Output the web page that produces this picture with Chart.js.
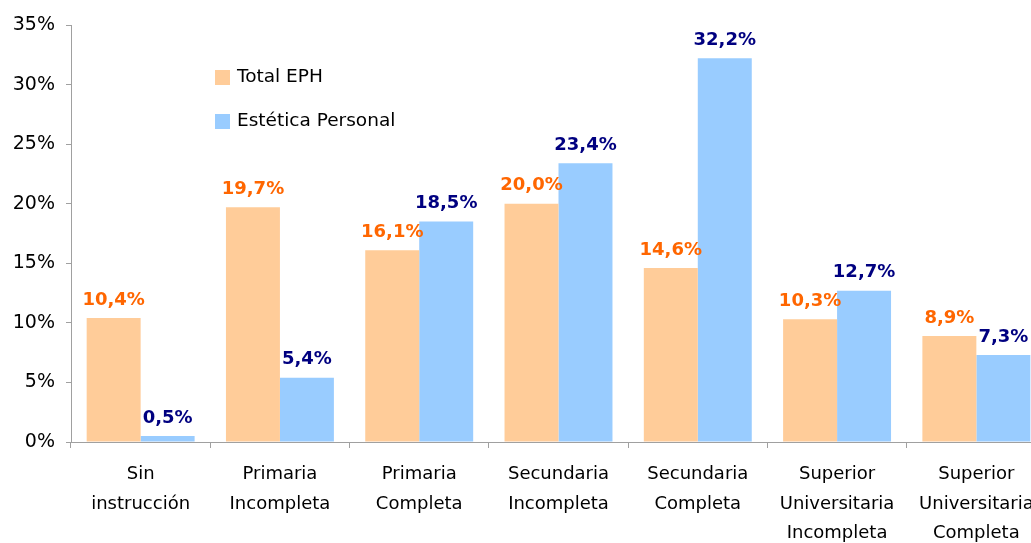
<!DOCTYPE html>
<html>
<head>
<meta charset="utf-8">
<script src="https://cdn.jsdelivr.net/npm/chart.js@4/dist/chart.umd.min.js"></script>
<style>
  html, body { margin: 0; padding: 0; background: #fff; overflow: hidden; }
  #wrap { position: relative; width: 1046px; height: 543px; }
</style>
</head>
<body>
<div id="wrap"><canvas id="eduChart"></canvas></div>
<script>
const categories = [
  ['Sin', 'instrucción'],
  ['Primaria', 'Incompleta'],
  ['Primaria', 'Completa'],
  ['Secundaria', 'Incompleta'],
  ['Secundaria', 'Completa'],
  ['Superior', 'Universitaria', 'Incompleta'],
  ['Superior', 'Universitaria', 'Completa']
];
const seriesNames = ['Total EPH', 'Estética Personal'];
const totalEph = [10.4, 19.7, 16.1, 20.0, 14.6, 10.3, 8.9];
const esteticaPersonal = [0.5, 5.4, 18.5, 23.4, 32.2, 12.7, 7.3];
const yTicks = [0, 5, 10, 15, 20, 25, 30, 35];

const fmt = v => v.toFixed(1).replace('.', ',') + '%';

// value labels over each bar
const valueLabels = {
  id: 'valueLabels',
  afterDatasetsDraw(chart) {
    const ctx = chart.ctx;
    ctx.save();
    ctx.font = 'bold 18px "DejaVu Sans"';
    ctx.textAlign = 'center';
    ctx.textBaseline = 'bottom';
    chart.data.datasets.forEach((ds, i) => {
      const meta = chart.getDatasetMeta(i);
      ctx.fillStyle = ds.labelColor;
      meta.data.forEach((bar, j) => {
        ctx.fillText(fmt(ds.data[j]), bar.x, bar.y - 9);
      });
    });
    ctx.restore();
  }
};

// legend drawn inside the plot area
const innerLegend = {
  id: 'innerLegend',
  afterDraw(chart) {
    const ctx = chart.ctx;
    ctx.save();
    ctx.font = '18.5px "DejaVu Sans"';
    ctx.textBaseline = 'middle';
    ctx.textAlign = 'left';
    chart.data.datasets.forEach((ds, i) => {
      const y = 77 + i * 44;
      ctx.fillStyle = ds.backgroundColor;
      ctx.fillRect(215, y - 7, 15, 15);
      ctx.fillStyle = '#000';
      ctx.fillText(ds.label, 237, y);
    });
    ctx.restore();
  }
};

const ctx1 = document.getElementById('eduChart');
new Chart(ctx1, {
  type: 'bar',
  data: {
    labels: categories,
    datasets: [{
      label: seriesNames[0],
      data: totalEph,
      backgroundColor: '#FFCC99',
      labelColor: '#FF6600',
      borderWidth: 0,
      barPercentage: 1,
      categoryPercentage: 0.775
    }, {
      label: seriesNames[1],
      data: esteticaPersonal,
      backgroundColor: '#99CCFF',
      labelColor: '#000080',
      borderWidth: 0,
      barPercentage: 1,
      categoryPercentage: 0.775
    }]
  },
  options: {
    responsive: true,
    maintainAspectRatio: false,
    animation: false,
    layout: { padding: { top: 25, right: 0, left: 0, bottom: 0 } },
    plugins: {
      legend: { display: false },
      tooltip: { enabled: false }
    },
    scales: {
      x: {
        grid: {
          display: true,
          drawOnChartArea: false,
          offset: true,
          tickLength: 6,
          color: '#a0a0a0',
          lineWidth: 1
        },
        border: { color: '#a0a0a0', width: 1 },
        ticks: {
          color: '#000',
          padding: 12,
          maxRotation: 0,
          autoSkip: false,
          font: { family: '"DejaVu Sans"', size: 18, lineHeight: 1.64 }
        },
        afterFit(scale) { scale.height = 101; }
      },
      y: {
        min: 0,
        max: 35,
        afterBuildTicks(scale) { scale.ticks = yTicks.map(v => ({ value: v })); },
        grid: {
          display: true,
          drawOnChartArea: false,
          tickLength: 5,
          color: '#a0a0a0'
        },
        border: { color: '#a0a0a0', width: 1 },
        ticks: {
          color: '#000',
          padding: 11,
          font: { family: '"DejaVu Sans"', size: 19 },
          callback: v => v + '%'
        },
        afterFit(scale) { scale.width = 71; }
      }
    }
  },
  plugins: [valueLabels, innerLegend]
});
</script>
</body>
</html>
